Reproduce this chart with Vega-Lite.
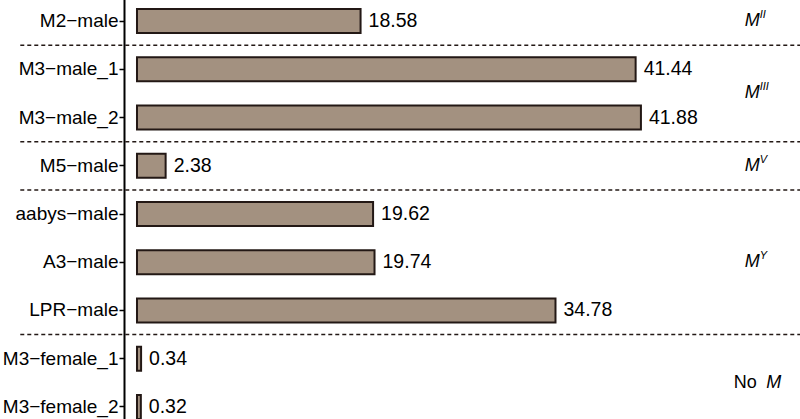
{
  "$schema": "https://vega.github.io/schema/vega-lite/v6.json",
  "width": 676,
  "height": 419,
  "autosize": {"type": "none"},
  "padding": {"left": 124, "top": 0, "right": 0, "bottom": 0},
  "background": "white",
  "datasets": {
    "samples": [
      {"sample": "M2−male", "value": 18.58},
      {"sample": "M3−male_1", "value": 41.44},
      {"sample": "M3−male_2", "value": 41.88},
      {"sample": "M5−male", "value": 2.38},
      {"sample": "aabys−male", "value": 19.62},
      {"sample": "A3−male", "value": 19.74},
      {"sample": "LPR−male", "value": 34.78},
      {"sample": "M3−female_1", "value": 0.34},
      {"sample": "M3−female_2", "value": 0.32}
    ],
    "breaks": [
      {"sample": "M2−male"},
      {"sample": "M3−male_2"},
      {"sample": "M5−male"},
      {"sample": "LPR−male"}
    ],
    "groups": [
      {"sample": "M2−male", "sup": "II", "span": 1},
      {"sample": "M3−male_1", "sup": "III", "span": 2},
      {"sample": "M5−male", "sup": "V", "span": 1},
      {"sample": "A3−male", "sup": "Y", "span": 1}
    ],
    "nogroup": [
      {"sample": "M3−female_1", "span": 2}
    ]
  },
  "encoding": {
    "y": {
      "field": "sample",
      "type": "nominal",
      "sort": null,
      "title": null,
      "scale": {
        "domain": ["M2−male", "M3−male_1", "M3−male_2", "M5−male", "aabys−male", "A3−male", "LPR−male", "M3−female_1", "M3−female_2"],
        "range": [-3, 431],
        "paddingInner": 0,
        "paddingOuter": 0
      }
    }
  },
  "layer": [
    {
      "data": {"name": "samples"},
      "mark": {"type": "bar", "size": 24, "fill": "#a39180", "stroke": "#231815", "strokeWidth": 2},
      "encoding": {
        "x": {
          "field": "value",
          "type": "quantitative",
          "scale": {"domain": [-1.08, 55.1], "nice": false, "zero": false},
          "axis": null
        }
      }
    },
    {
      "data": {"name": "breaks"},
      "mark": {"type": "rule", "strokeDash": [4, 3], "strokeWidth": 1.5, "color": "#231815"},
      "encoding": {
        "y": {"field": "sample", "type": "nominal", "sort": null, "bandPosition": 1},
        "x": {"datum": -9.7, "type": "quantitative", "axis": null},
        "x2": {"datum": 55.1}
      }
    },
    {
      "data": {"name": "samples"},
      "mark": {"type": "text", "align": "left", "baseline": "middle", "dx": 8, "fontSize": 19.5, "font": "Liberation Sans", "color": "black"},
      "encoding": {
        "x": {"field": "value", "type": "quantitative", "axis": null},
        "text": {"field": "value", "type": "quantitative", "format": ".2f"}
      }
    },
    {
      "data": {"name": "groups"},
      "transform": [{"filter": "datum.span == 1"}],
      "mark": {"type": "text", "align": "left", "baseline": "middle", "fontSize": 18, "fontStyle": "italic", "font": "Liberation Sans", "color": "black"},
      "encoding": {
        "x": {"datum": 50.5, "type": "quantitative", "axis": null},
        "text": {"value": "M"}
      }
    },
    {
      "data": {"name": "groups"},
      "transform": [{"filter": "datum.span == 1"}],
      "mark": {"type": "text", "align": "left", "baseline": "alphabetic", "dx": 15, "dy": -3, "fontSize": 11, "fontStyle": "italic", "font": "Liberation Sans", "color": "black"},
      "encoding": {
        "x": {"datum": 50.5, "type": "quantitative", "axis": null},
        "text": {"field": "sup"}
      }
    },
    {
      "data": {"name": "groups"},
      "transform": [{"filter": "datum.span == 2"}],
      "mark": {"type": "text", "align": "left", "baseline": "middle", "dy": 24, "fontSize": 18, "fontStyle": "italic", "font": "Liberation Sans", "color": "black"},
      "encoding": {
        "x": {"datum": 50.5, "type": "quantitative", "axis": null},
        "text": {"value": "M"}
      }
    },
    {
      "data": {"name": "groups"},
      "transform": [{"filter": "datum.span == 2"}],
      "mark": {"type": "text", "align": "left", "baseline": "alphabetic", "dx": 15, "dy": 21, "fontSize": 11, "fontStyle": "italic", "font": "Liberation Sans", "color": "black"},
      "encoding": {
        "x": {"datum": 50.5, "type": "quantitative", "axis": null},
        "text": {"field": "sup"}
      }
    },
    {
      "data": {"name": "nogroup"},
      "mark": {"type": "text", "align": "left", "baseline": "middle", "dy": 24, "fontSize": 18, "font": "Liberation Sans", "color": "black"},
      "encoding": {
        "x": {"datum": 49.6, "type": "quantitative", "axis": null},
        "text": {"value": "No"}
      }
    },
    {
      "data": {"name": "nogroup"},
      "mark": {"type": "text", "align": "left", "baseline": "middle", "dy": 24, "fontSize": 18, "fontStyle": "italic", "font": "Liberation Sans", "color": "black"},
      "encoding": {
        "x": {"datum": 52.3, "type": "quantitative", "axis": null},
        "text": {"value": "M"}
      }
    }
  ],
  "config": {
    "view": {"stroke": null},
    "axis": {"grid": false},
    "axisY": {
      "domainColor": "black",
      "domainWidth": 2,
      "tickColor": "black",
      "tickWidth": 1.5,
      "tickSize": 5,
      "labelFontSize": 19,
      "labelFont": "Liberation Sans",
      "labelColor": "black",
      "labelPadding": 1
    }
  }
}
